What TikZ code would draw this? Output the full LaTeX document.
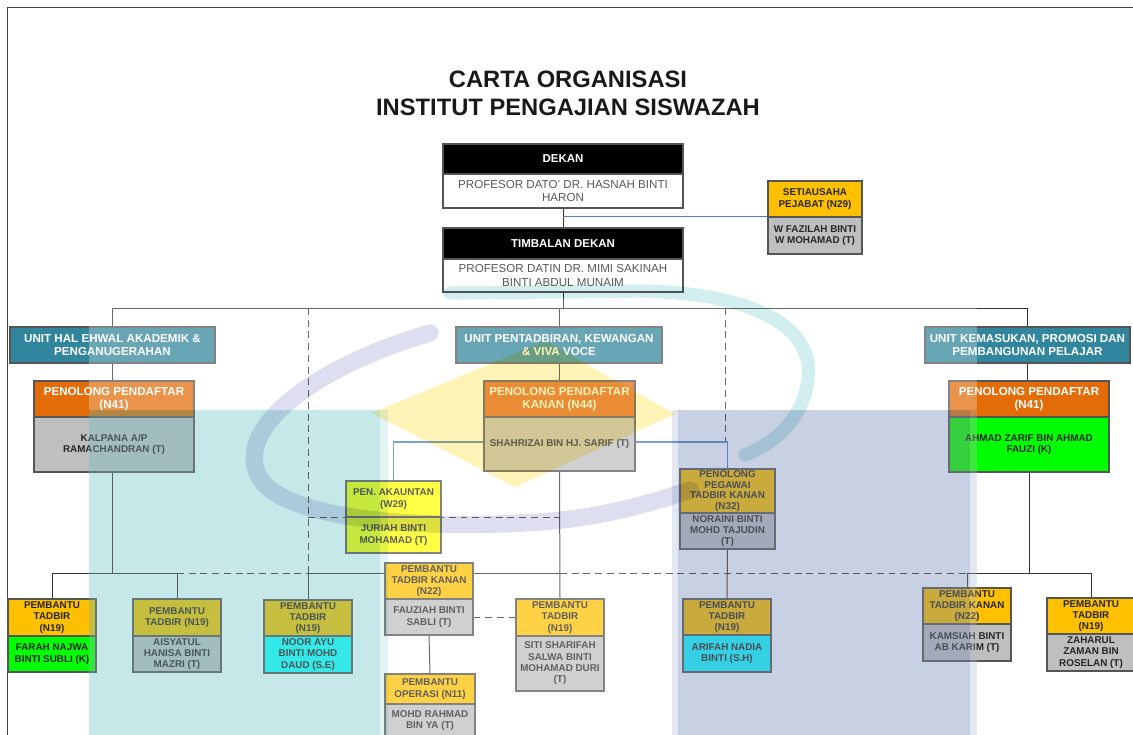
\documentclass[tikz,border=0pt]{standalone}
\usepackage{fontspec}
\setmainfont{Liberation Sans}
\definecolor{boxline}{HTML}{555555}
\definecolor{linec}{HTML}{333333}
\definecolor{bluelc}{HTML}{4F81BD}
\definecolor{nametext}{HTML}{595959}
\definecolor{smtext}{HTML}{262626}
\definecolor{unitc}{HTML}{31859C}
\definecolor{orangec}{HTML}{E36C09}
\definecolor{goldc}{HTML}{FFC000}
\definecolor{greyc}{HTML}{BFBFBF}
\definecolor{limec}{HTML}{00FF00}
\definecolor{cyanc}{HTML}{00FFFF}
\definecolor{yellowc}{HTML}{FFFF00}
\definecolor{tealw}{HTML}{C6E8E8}
\definecolor{tealw2}{HTML}{E2F3F3}
\definecolor{bluew}{HTML}{C8D0E4}
\definecolor{bluew2}{HTML}{E4E8F2}
\definecolor{yelw}{HTML}{FFF3B8}
\definecolor{tealarc}{HTML}{D3EEEE}
\definecolor{bluearc}{HTML}{DDDFF0}
\newcommand\bx[7]{%
  \pgfmathsetmacro\bxw{(#3-#2)*0.75}%
  \pgfmathsetmacro\bxh{(#5-#4)*0.75}%
  \pgfmathsetmacro\bxcx{(#2+#3)/2}%
  \pgfmathsetmacro\bxcy{(#4+#5)/2}%
  \node[boxbase,#6,minimum width=\bxw pt,minimum height=\bxh pt] (#1) at (\bxcx,\bxcy) {#7};}
\begin{document}
\begin{tikzpicture}[x=0.75pt,y=-0.75pt,
  boxbase/.style={draw=boxline, line width=0.8pt, inner sep=0pt, align=center},
  blk/.style={fill=black, text=white, font=\fontsize{8.6}{10}\selectfont\bfseries},
  nm/.style={fill=white, text=nametext, font=\fontsize{8.7}{9.8}\selectfont},
  unitbox/.style={fill=unitc, text=white, font=\fontsize{8.7}{9.3}\selectfont\bfseries},
  penh/.style={fill=orangec, text=white, font=\fontsize{8.7}{9.5}\selectfont\bfseries},
  smt/.style={text=smtext, font=\fontsize{7.4}{8.5}\selectfont\bfseries},
  ghead/.style={smt, fill=goldc},
  gbody/.style={smt, fill=greyc},
  lbody/.style={smt, fill=limec},
  cbody/.style={smt, fill=cyanc},
  ybox/.style={smt, fill=yellowc},
  ttl/.style={font=\fontsize{17.8}{21}\selectfont\bfseries, text=black!90},
  conn/.style={draw=linec, line width=0.75pt},
  dsh/.style={draw=linec, line width=0.75pt, dash pattern=on 5.2pt off 3.6pt},
  bconn/.style={draw=bluelc, line width=0.9pt}]
\useasboundingbox (0,0) rectangle (1133,735);
\draw[line width=0.9pt, draw=black!75] (7.5,735) -- (7.5,7.5) -- (1133,7.5);

% title
\node[ttl] (t1) at (568,79) {CARTA ORGANISASI};
\node[ttl] (t2) at (568,107) {INSTITUT PENGAJIAN SISWAZAH};

% boxes
\bx{dekanh}{443}{683}{144}{174}{blk}{DEKAN}
\bx{dekanb}{443}{683}{174}{208}{nm}{PROFESOR DATO' DR. HASNAH BINTI\\HARON}
\bx{timbh}{443}{683}{228}{259}{blk}{TIMBALAN DEKAN}
\bx{timbb}{443}{683}{259}{292}{nm}{PROFESOR DATIN DR. MIMI SAKINAH\\BINTI ABDUL MUNAIM}
\bx{setiah}{768}{862}{181}{217}{ghead}{SETIAUSAHA\\PEJABAT (N29)}
\bx{setiab}{768}{862}{217}{254}{gbody}{W FAZILAH BINTI\\W MOHAMAD (T)}

\coordinate (busy) at (0,308);
\coordinate (lb) at (0,573);
\coordinate (d1t) at (308,308);
\coordinate (d1b) at (308,573);
\coordinate (d2t) at (725,308);
\coordinate (d2b) at (725,442);

% connectors (under boxes)
\draw[conn] (dekanb.south) -- (timbh.north);
\draw[bconn] (dekanb.south |- setiab.north west) -- (setiab.north west);
\draw[conn] (timbb.south) -- (timbb.south |- busy);
\draw[conn] (112.5,308) -- (1027.5,308);
\draw[dsh] (d1t) -- (d1b);
\draw[dsh] (d2t) -- (d2b);
\draw[dsh] (d1t |- 0,517) -- (559.5,517);

\bx{unit1}{10}{215}{327}{363}{unitbox}{UNIT HAL EHWAL AKADEMIK \&\\PENGANUGERAHAN}
\bx{unit2}{456}{662}{327}{363}{unitbox}{UNIT PENTADBIRAN, KEWANGAN\\\& VIVA VOCE}
\bx{unit3}{925}{1130}{327}{363}{unitbox}{UNIT KEMASUKAN, PROMOSI DAN\\PEMBANGUNAN PELAJAR}

\bx{pen1h}{34}{194}{381}{417}{penh}{PENOLONG PENDAFTAR\\(N41)}
\bx{pen1b}{34}{194}{417}{472}{gbody}{KALPANA A/P\\RAMACHANDRAN (T)}
\bx{pen2h}{484}{635}{381}{417}{penh}{PENOLONG PENDAFTAR\\KANAN (N44)}
\bx{pen2b}{484}{635}{417}{471}{gbody}{SHAHRIZAI BIN HJ. SARIF (T)}
\bx{pen3h}{949}{1109}{381}{417}{penh}{PENOLONG PENDAFTAR\\(N41)}
\bx{pen3b}{949}{1109}{417}{472}{lbody}{AHMAD ZARIF BIN AHMAD\\FAUZI (K)}

\bx{akaunh}{346}{441}{481}{517}{ybox}{PEN. AKAUNTAN\\(W29)}
\bx{akaunb}{346}{441}{517}{553}{ybox}{JURIAH BINTI\\MOHAMAD (T)}
\bx{ppth}{680}{775}{469}{513}{ghead,font=\fontsize{7.4}{8}\selectfont\bfseries}{PENOLONG\\PEGAWAI\\TADBIR KANAN\\(N32)}
\bx{pptb}{680}{775}{513}{549}{gbody}{NORAINI BINTI\\MOHD TAJUDIN\\(T)}

\bx{ptkh}{385}{473}{563}{599}{ghead}{PEMBANTU\\TADBIR KANAN\\(N22)}
\bx{ptkb}{385}{473}{599}{635}{gbody}{FAUZIAH BINTI\\SABLI (T)}
\bx{opsh}{385}{475}{674}{704}{ghead}{PEMBANTU\\OPERASI (N11)}
\bx{opsb}{385}{475}{704}{737}{gbody}{MOHD RAHMAD\\BIN YA (T)}
\bx{sitih}{516}{604}{599}{636}{ghead}{PEMBANTU\\TADBIR\\(N19)}
\bx{sitib}{516}{604}{636}{691}{gbody}{SITI SHARIFAH\\SALWA BINTI\\MOHAMAD DURI\\(T)}
\bx{farahh}{8}{96}{599}{636}{ghead}{PEMBANTU\\TADBIR\\(N19)}
\bx{farahb}{8}{96}{636}{672}{lbody}{FARAH NAJWA\\BINTI SUBLI (K)}
\bx{aisyh}{133}{221}{599}{636}{ghead}{PEMBANTU\\TADBIR (N19)}
\bx{aisyb}{133}{221}{636}{672}{gbody}{AISYATUL\\HANISA BINTI\\MAZRI (T)}
\bx{noorh}{264}{352}{600}{636}{ghead}{PEMBANTU\\TADBIR\\(N19)}
\bx{noorb}{264}{352}{636}{673}{cbody}{NOOR AYU\\BINTI MOHD\\DAUD (S.E)}
\bx{arih}{683}{771}{599}{635}{ghead}{PEMBANTU\\TADBIR\\(N19)}
\bx{arib}{683}{771}{635}{672}{cbody}{ARIFAH NADIA\\BINTI (S.H)}
\bx{kamh}{923}{1011}{588}{624}{ghead}{PEMBANTU\\TADBIR KANAN\\(N22)}
\bx{kamb}{923}{1011}{624}{661}{gbody}{KAMSIAH BINTI\\AB KARIM (T)}
\bx{zahh}{1047}{1135}{598}{634}{ghead}{PEMBANTU\\TADBIR\\(N19)}
\bx{zahb}{1047}{1135}{634}{671}{gbody}{ZAHARUL\\ZAMAN BIN\\ROSELAN (T)}

% vertical connectors
\draw[conn] (unit1.north |- busy) -- (unit1.north);
\draw[conn] (unit2.north |- busy) -- (unit2.north);
\draw[conn] (unit3.north |- busy) -- (unit3.north);
\draw[conn] (unit1.south) -- (unit1.south |- pen1h.north);
\draw[conn] (unit2.south) -- (unit2.south |- pen2h.north);
\draw[conn] (unit3.south) -- (unit3.south |- pen3h.north);
\draw[bconn] (pen2b.west |- d2b) -| (akaunh.north);
\draw[bconn] (pen2b.east |- d2b) -| (ppth.north);
\draw[conn] (pen2b.south) -- (sitih.north);
\draw[conn] (unit1.south |- pen1b.south) -- (unit1.south |- lb);
\draw[conn] (farahh.north) |- (aisyh.north |- lb) -- (aisyh.north);
\draw[dsh] (aisyh.north |- lb) -- (d1b);
\draw[conn] (d1b) -- (ptkh.west |- lb);
\draw[conn] (d1b) -- (noorh.north);
\draw[conn] (ptkh.east |- lb) -- (sitih.north |- lb);
\draw[dsh] (sitih.north |- lb) -- (kamh.north |- lb);
\draw[conn] (kamh.north |- lb) -- (zahh.north |- lb);
\draw[conn] (kamh.north |- lb) -- (kamh.north);
\draw[conn] (zahh.north |- lb) -- (zahh.north);
\draw[conn] (pen3b.south) -- (pen3b.south |- lb);
\draw[conn] (pptb.south) -- (arih.north);
\draw[conn] (ptkb.south) -- (opsh.north);
\draw[dsh] (ptkb.east) -- (sitih.west |- ptkb.east);

% watermark
\fill[white, opacity=0.27] (89,300) rectangle (977,735);
\begin{scope}[blend mode=multiply]
  \fill[tealw] (89,410) rectangle (380,735);
  \fill[tealw2] (380,410) rectangle (388,735);
  \fill[bluew2] (672,410) rectangle (678,735);
  \fill[bluew2] (970,410) rectangle (977,735);
  \fill[bluew] (678,410) rectangle (970,735);
  \fill[yelw] (545,341) -- (675,414) -- (515,487) -- (372,413) -- cycle;
  \draw[tealarc, line width=10pt, line cap=round]
    (450,293) -- (640,291) .. controls (760,293) and (815,330) .. (808,380)
    .. controls (802,420) and (775,443) .. (745,455);
  \draw[bluearc, line width=13pt, line cap=round]
    (430,333) .. controls (320,365) and (235,425) .. (258,475)
    .. controls (280,520) and (420,530) .. (540,522)
    .. controls (610,517) and (660,500) .. (690,490);
\end{scope}
\end{tikzpicture}
\end{document}
